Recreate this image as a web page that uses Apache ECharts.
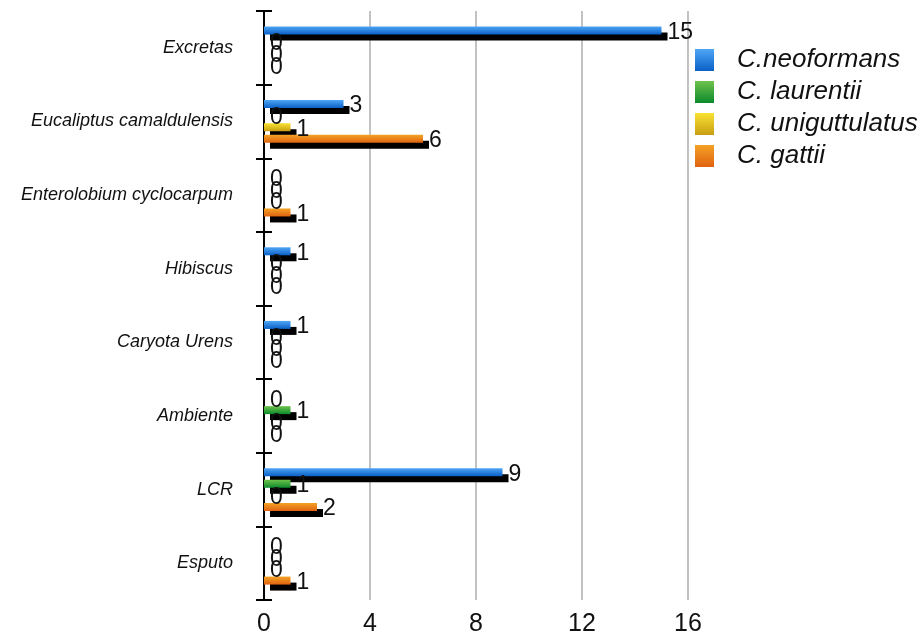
<!DOCTYPE html>
<html>
<head>
<meta charset="utf-8">
<title>Cryptococcus por origen</title>
<script src="https://cdn.jsdelivr.net/npm/echarts@6/dist/echarts.min.js"></script>
<style>
  html, body { margin: 0; padding: 0; background: #ffffff; }
  #chart { width: 924px; height: 638px; }
</style>
</head>
<body>
<div id="chart"></div>
<script>
// Sample origins, top to bottom
const categories = ['Excretas', 'Eucaliptus camaldulensis', 'Enterolobium cyclocarpum', 'Hibiscus', 'Caryota Urens', 'Ambiente', 'LCR', 'Esputo'];

// Isolates per species
const neoformans    = [15, 3, 0, 1, 1, 0, 9, 0];
const laurentii     = [0, 0, 0, 0, 0, 1, 1, 0];
const uniguttulatus = [0, 1, 0, 0, 0, 0, 0, 0];
const gattii        = [0, 6, 1, 0, 0, 0, 2, 1];

const seriesNames = ['C.neoformans', 'C. laurentii', 'C. uniguttulatus', 'C. gattii'];
const xTickLabels = [0, 4, 8, 12, 16];

const FONT = '"Liberation Sans", Arial, Helvetica, sans-serif';

function grad(top, bottom) {
  return new echarts.graphic.LinearGradient(0, 0, 0, 1, [
    { offset: 0, color: top },
    { offset: 1, color: bottom }
  ]);
}

const fills = [
  grad('#4fa6f6', '#0a60c6'),
  grad('#6ec24c', '#0b8a2c'),
  grad('#f9e232', '#c79e12'),
  grad('#f3a226', '#e0620f')
];

const values = [neoformans, laurentii, uniguttulatus, gattii];

const series = values.map((data, i) => ({
  name: seriesNames[i],
  type: 'bar',
  data: data,
  barWidth: 8,
  barGap: '45%',
  itemStyle: {
    color: fills[i],
    shadowColor: '#000000',
    shadowBlur: 0,
    shadowOffsetX: 6,
    shadowOffsetY: 6
  },
  label: {
    show: true,
    position: 'right',
    distance: 6,
    offset: [0, 2],
    color: '#111111',
    fontFamily: FONT,
    fontSize: 23
  },
  emphasis: { disabled: true }
}));

const chart = echarts.init(document.getElementById('chart'), null, { renderer: 'canvas' });

chart.setOption({
  animation: false,
  backgroundColor: '#ffffff',
  grid: { left: 264, right: 236, top: 11, bottom: 38, containLabel: false },
  legend: {
    orient: 'vertical',
    left: 695,
    top: 47,
    padding: 0,
    itemWidth: 19,
    itemHeight: 22,
    itemGap: 6,
    icon: 'rect',
    selectedMode: false,
    itemStyle: { shadowColor: 'transparent', shadowBlur: 0, shadowOffsetX: 0, shadowOffsetY: 0 },
    textStyle: {
      fontFamily: FONT,
      fontStyle: 'italic',
      fontSize: 26,
      color: '#111111',
      padding: [0, 0, 0, 18]
    },
    data: seriesNames
  },
  xAxis: {
    type: 'value',
    min: xTickLabels[0],
    max: xTickLabels[xTickLabels.length - 1],
    interval: 4,
    axisLine: { show: false },
    axisTick: { show: false },
    splitLine: { show: true, lineStyle: { color: '#c2c2c2', width: 2 } },
    axisLabel: {
      margin: 12,
      fontFamily: FONT,
      fontSize: 25,
      color: '#111111'
    }
  },
  yAxis: [
    {
      type: 'category',
      data: categories,
      inverse: true,
      axisLine: { show: true, lineStyle: { color: '#000000', width: 2 } },
      axisTick: { show: true, length: 8, lineStyle: { color: '#000000', width: 2 } },
      splitLine: { show: false },
      axisLabel: {
        margin: 31,
        fontFamily: FONT,
        fontStyle: 'italic',
        fontSize: 18,
        color: '#111111'
      }
    },
    {
      // inner half of the crossing tick marks
      type: 'category',
      data: categories,
      inverse: true,
      position: 'left',
      axisLine: { show: false },
      axisTick: { show: true, inside: true, length: 8, lineStyle: { color: '#000000', width: 2 } },
      axisLabel: { show: false },
      splitLine: { show: false }
    }
  ],
  series: series
});
</script>
</body>
</html>
